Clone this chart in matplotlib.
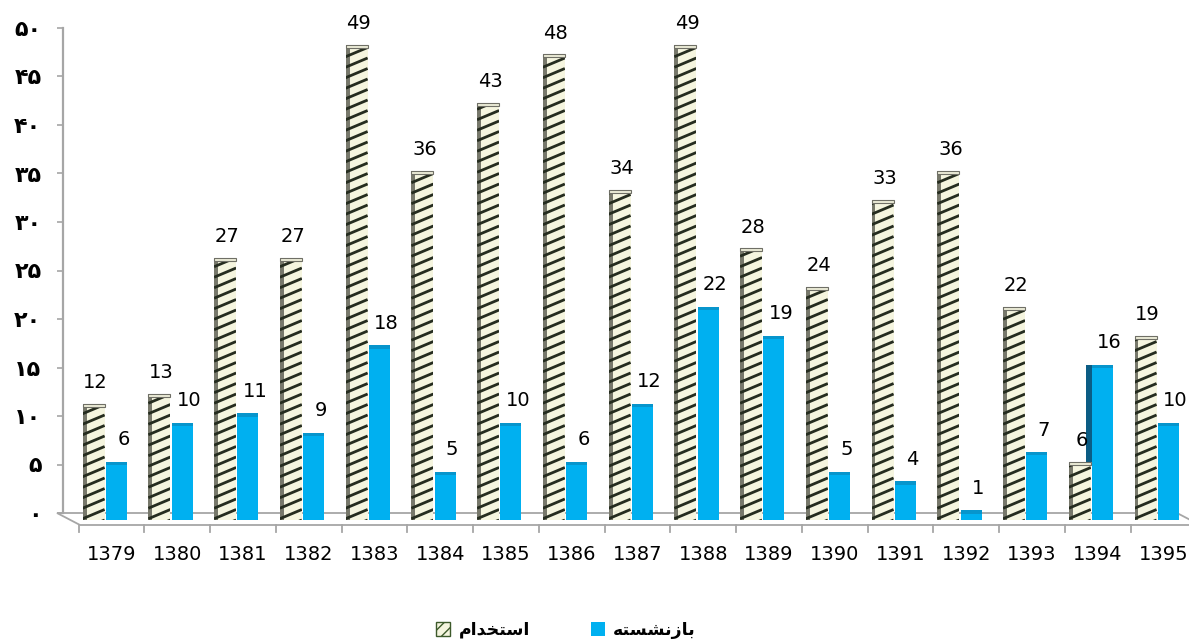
# Persian 3D-style clustered bar chart: استخدام vs بازنشسته per year (1379-1395).
# matplotlib has no Arabic shaping, so labels are shaped into presentation forms by hand.

import matplotlib
matplotlib.use("Agg")
import matplotlib.pyplot as plt
import numpy as np
from matplotlib import transforms
from matplotlib.collections import LineCollection
from matplotlib.patches import Patch, Polygon

# --- Data --------------------------------------------------------------------
YEARS = [1379, 1380, 1381, 1382, 1383, 1384, 1385, 1386, 1387,
         1388, 1389, 1390, 1391, 1392, 1393, 1394, 1395]
EMPLOYED = [12, 13, 27, 27, 49, 36, 43, 48, 34, 49, 28, 24, 33, 36, 22, 6, 19]
RETIRED = [6, 10, 11, 9, 18, 5, 10, 6, 12, 22, 19, 5, 4, 1, 7, 16, 10]
LABEL_EMPLOYED = "استخدام"
LABEL_RETIRED = "بازنشسته"
Y_TICKS = list(range(0, 51, 5))

# --- Canvas (pixel layout of the reference) ----------------------------------
W, H, DPI = 1189, 644, 100
CREAM = "#F5F5DF"
STRIPE = "#252c1f"
BLUE = "#00B0F0"
BLUE_SIDE = "#0b5c84"
GRAY = "#A6A6A6"
NARROW = ["Liberation Sans Narrow", "DejaVu Sans"]

XLIM = (-0.6, 16.42)
YLIM = (0, 50)
STRIPE_SLOPE = 0.42   # rise per run of a stripe, in pixels
STRIPE_GAP = 10.5     # px between stripes, measured vertically


def fx(px):
    return px / W


def fy(py):
    return 1 - py / H


# isolated, final, initial, medial (None = letter never joins the next one)
FORMS = {
    "ا": ("\uFE8D", "\uFE8E", None, None),
    "ب": ("\uFE8F", "\uFE90", "\uFE91", "\uFE92"),
    "ت": ("\uFE95", "\uFE96", "\uFE97", "\uFE98"),
    "خ": ("\uFEA5", "\uFEA6", "\uFEA7", "\uFEA8"),
    "د": ("\uFEA9", "\uFEAA", None, None),
    "ز": ("\uFEAF", "\uFEB0", None, None),
    "س": ("\uFEB1", "\uFEB2", "\uFEB3", "\uFEB4"),
    "ش": ("\uFEB5", "\uFEB6", "\uFEB7", "\uFEB8"),
    "م": ("\uFEE1", "\uFEE2", "\uFEE3", "\uFEE4"),
    "ن": ("\uFEE5", "\uFEE6", "\uFEE7", "\uFEE8"),
    "ه": ("\uFEE9", "\uFEEA", "\uFEEB", "\uFEEC"),
}


def shape(text):
    """Join Persian letters into presentation forms and flip to visual order."""
    out = []
    for i, ch in enumerate(text):
        iso, fin, ini, med = FORMS[ch]
        joins_prev = i > 0 and FORMS[text[i - 1]][2] is not None
        joins_next = i < len(text) - 1 and ini is not None
        if joins_prev and joins_next:
            out.append(med)
        elif joins_prev:
            out.append(fin)
        elif joins_next:
            out.append(ini)
        else:
            out.append(iso)
    return "".join(reversed(out))


def fa_digits(n):
    return str(n).translate(str.maketrans("0123456789", "۰۱۲۳۴۵۶۷۸۹"))


def add_stripes(ax, bars, px_per_x, px_per_y):
    """Shallow diagonal stripes clipped to each bar (matplotlib hatches are 45°)."""
    k = STRIPE_SLOPE * px_per_x / px_per_y
    step = STRIPE_GAP / px_per_y
    for bar in bars:
        x0, w, h = bar.get_x(), bar.get_width(), bar.get_height()
        segs = [[(x0, y), (x0 + w, y + k * w)]
                for y in np.arange(-k * w, h + step, step)]
        lc = LineCollection(segs, colors=STRIPE, linewidths=2.0, zorder=4)
        ax.add_collection(lc, autolim=False)
        # after add_collection, otherwise the axes clip box wins
        lc.set_clip_path(bar)


fig = plt.figure(figsize=(W / DPI, H / DPI), dpi=DPI)

# Back wall: carries the value axis
wall = fig.add_axes([fx(63), fy(513), fx(1185) - fx(63), (513 - 28) / H])
wall.patch.set_visible(False)
wall.set_ylim(*YLIM)
wall.set_yticks(Y_TICKS, [fa_digits(t) for t in Y_TICKS])
wall.tick_params(axis="y", length=4.5, width=1.2, color=GRAY, pad=11,
                 labelsize=16)
for lbl in wall.get_yticklabels():
    lbl.set_fontweight("bold")
    lbl.set_family("DejaVu Sans")
wall.xaxis.set_visible(False)
for side in ("top", "right", "bottom"):
    wall.spines[side].set_visible(False)
wall.spines["left"].set_color(GRAY)
wall.spines["left"].set_linewidth(1.6)

# Floor of the 3D box
floor = Polygon([(fx(57), fy(513)), (fx(1177), fy(513)),
                 (fx(1200), fy(525)), (fx(80), fy(525))],
                closed=True, facecolor="white", edgecolor=GRAY, linewidth=1.3,
                transform=fig.transFigure, zorder=-1)
fig.patches.append(floor)

# Front plane: the bars
ax_w, ax_h = 1185 - 66, 485
ax = fig.add_axes([fx(66), fy(520), ax_w / W, ax_h / H])
ax.patch.set_visible(False)
ax.set_xlim(*XLIM)
ax.set_ylim(*YLIM)
ax.axis("off")

x = np.arange(len(YEARS))
emp = np.array(EMPLOYED)
ret = np.array(RETIRED)
emp_x = x - 0.18
ret_x = x + 0.167
EMP_W, RET_W, SIDE_W = 0.335, 0.32, 0.1

# dark side face of a blue bar, visible only where it rises above its neighbour
taller = ret > emp
ax.bar(ret_x[taller] - RET_W / 2 - SIDE_W / 2 + 0.01, (ret - emp)[taller],
       bottom=emp[taller], width=SIDE_W, color=BLUE_SIDE, linewidth=0, zorder=1)
ax.bar(ret_x, ret, width=RET_W, color=BLUE, linewidth=0, zorder=2)
ax.bar(ret_x, np.minimum(ret, 0.35), bottom=ret - np.minimum(ret, 0.35),
       width=RET_W, color="#0795CC", linewidth=0, zorder=2)

emp_bars = ax.bar(emp_x, emp, width=EMP_W, facecolor=CREAM, linewidth=0,
                  zorder=3)
ax.bar(emp_x - EMP_W / 2 + 0.03, emp, width=0.06, facecolor="#77786b",
       linewidth=0, zorder=3)
add_stripes(ax, emp_bars, ax_w / (XLIM[1] - XLIM[0]), ax_h / (YLIM[1] - YLIM[0]))
ax.bar(emp_x, np.minimum(emp, 0.3), bottom=emp - np.minimum(emp, 0.3),
       width=EMP_W, facecolor="#ececd8", edgecolor="#6f6f66", linewidth=0.8,
       zorder=5)

for xi, v in zip(emp_x, EMPLOYED):
    ax.annotate(str(v), (xi, v), xytext=(1.5, 8.5), textcoords="offset points",
                ha="center", va="bottom", fontsize=14, family=NARROW)
for xi, v in zip(ret_x, RETIRED):
    ax.annotate(str(v), (xi, v), xytext=(5, 9), textcoords="offset points",
                ha="center", va="bottom", fontsize=14, family=NARROW)

# Front category axis, shifted a little right of the bars (3D perspective)
front = (transforms.blended_transform_factory(ax.transData, fig.transFigure)
         + transforms.ScaledTranslation(6 / DPI, 0, fig.dpi_scale_trans))
for b in np.arange(len(YEARS) + 1) - 0.5:
    ax.plot([b, b], [fy(525), fy(532)], color=GRAY, linewidth=1.3,
            transform=front, clip_on=False)
for xi, year in zip(x, YEARS):
    ax.text(xi, fy(555), str(year), transform=front, ha="center", va="center",
            fontsize=14, family=NARROW)

# Legend
handles = [
    Patch(facecolor=CREAM, edgecolor="#3d5a2b", hatch="///",
          label=shape(LABEL_EMPLOYED)),
    Patch(facecolor=BLUE, label=shape(LABEL_RETIRED)),
]
fig.legend(handles=handles, ncol=2, loc="center",
           bbox_to_anchor=(fx(566), fy(630)), frameon=False,
           prop=dict(family="DejaVu Sans", weight="bold", size=12.5),
           handlelength=0.8, handleheight=0.8, handletextpad=0.5,
           columnspacing=3.5)

fig.savefig("out.png", dpi=DPI)
